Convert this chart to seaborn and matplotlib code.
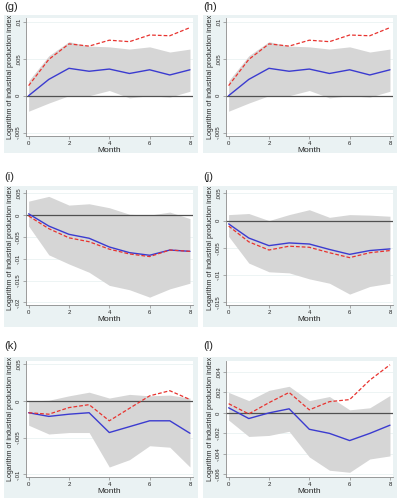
import matplotlib
matplotlib.use("Agg")
import matplotlib.pyplot as plt
from matplotlib.patches import Rectangle
import seaborn as sns

# DATA
months = [0, 1, 2, 3, 4, 5, 6, 7, 8]

g_blue = [0.0, 0.0022, 0.0037, 0.0033, 0.0036, 0.0030, 0.0035, 0.0028, 0.0035]
g_red = [0.00136, 0.0049, 0.0070, 0.0067, 0.0075, 0.0073, 0.0082, 0.0081, 0.0092]
g_hi = [0.0020, 0.0054, 0.0073, 0.0067, 0.0066, 0.0063, 0.0066, 0.0059, 0.0063]
g_lo = [-0.0021, -0.0010, 0.0, 0.0, 0.0007, -0.0003, 0.0, -0.0002, 0.0006]

h_blue = list(g_blue)
h_red = list(g_red)
h_hi = list(g_hi)
h_lo = list(g_lo)

i_blue = [0.0003, -0.0025, -0.0044, -0.0053, -0.0073, -0.0086, -0.0092, -0.0080, -0.0083]
i_red = [-0.0002, -0.0031, -0.0052, -0.0061, -0.0078, -0.0089, -0.0095, -0.0080, -0.0083]
i_hi = [0.0032, 0.0043, 0.0023, 0.0026, 0.0017, 0.0002, 0.0, 0.0007, -0.0008]
i_lo = [-0.0025, -0.0091, -0.0112, -0.0131, -0.0161, -0.0171, -0.0188, -0.0169, -0.0156]

j_blue = [-0.0006, -0.0032, -0.0046, -0.0041, -0.0043, -0.0053, -0.0062, -0.0055, -0.0052]
j_red = [-0.0010, -0.0039, -0.0054, -0.0047, -0.0049, -0.0059, -0.0068, -0.0059, -0.0055]
j_hi = [0.0011, 0.0013, 0.0, 0.0011, 0.0020, 0.0006, 0.0011, 0.0010, 0.0008]
j_lo = [-0.0029, -0.0078, -0.0094, -0.0096, -0.0107, -0.0115, -0.0135, -0.0121, -0.0115]

k_blue = [-0.0016, -0.0021, -0.0018, -0.0016, -0.0043, -0.0035, -0.0027, -0.0027, -0.0044]
k_red = [-0.0016, -0.0018, -0.0009, -0.0005, -0.0027, -0.0010, 0.0007, 0.0014, 0.0002]
k_hi = [0.0, 0.0001, 0.0007, 0.0012, 0.0004, 0.0009, 0.0007, 0.0008, 0.0004]
k_lo = [-0.0033, -0.0045, -0.0043, -0.0043, -0.0090, -0.0080, -0.0061, -0.0063, -0.0090]

l_blue = [0.0005, -0.00055, 0.0, 0.0004, -0.0016, -0.0020, -0.0027, -0.0020, -0.0012]
l_red = [0.0009, -0.0001, 0.0010, 0.0020, 0.0003, 0.0011, 0.0013, 0.0032, 0.0047]
l_hi = [0.0020, 0.0012, 0.0022, 0.0026, 0.0012, 0.0016, 0.0003, 0.0005, 0.0017]
l_lo = [-0.0007, -0.0023, -0.0022, -0.0018, -0.0043, -0.0056, -0.0058, -0.0045, -0.0042]

ticks_gh = [-0.005, 0, 0.005, 0.01]
labels_gh = ["-.005", "0", ".005", ".01"]
ticks_i = [-0.02, -0.015, -0.01, -0.005, 0, 0.005]
labels_i = ["-.02", "-.015", "-.01", "-.005", "0", ".005"]
ticks_j = [-0.015, -0.01, -0.005, 0, 0.005]
labels_j = ["-.015", "-.01", "-.005", "0", ".005"]
ticks_k = [-0.01, -0.005, 0, 0.005]
labels_k = ["-.01", "-.005", "0", ".005"]
ticks_l = [-0.006, -0.004, -0.002, 0, 0.002, 0.004]
labels_l = ["-.006", "-.004", "-.002", "0", ".002", ".004"]

month_ticks = [0, 2, 4, 6, 8]

sns.set_style("white")
plt.rcParams["font.family"] = ["Liberation Sans", "DejaVu Sans"]

W, H = 400, 500
fig = plt.figure(figsize=(4, 5), dpi=100)

OUTER = "#eaf2f3"
BAND = "#d6d6d6"
BLUE = "#3b3bd0"
RED = "#e8332f"
AXIS = "#8a8a8a"


def px_axes(x0, y0, x1, y1):
    return fig.add_axes([x0 / W, 1 - y1 / H, (x1 - x0) / W, (y1 - y0) / H])


def panel(letter, col, row, blue, red, lo, hi, ylim, yticks, ylabels):
    rows = [(15, 153, 18, 136, 7), (186, 327, 190, 305, 177), (357, 498, 361, 477, 346)]
    by0, by1, py0, py1, ly = rows[row]
    bx0 = 4 if col == 0 else 203
    px0 = 26 if col == 0 else 226
    # outer graph region, behind the axes
    fig.patches.append(Rectangle((bx0 / W, 1 - by1 / H), 194 / W, (by1 - by0) / H,
                                 transform=fig.transFigure, facecolor=OUTER,
                                 edgecolor="none", zorder=-5))
    fig.text((bx0 + 0) / W, 1 - ly / H, f"({letter})", fontsize=8, va="center", ha="left")

    ax = px_axes(px0, py0, px0 + 167, py1)
    ax.set_zorder(2)
    ax.set_facecolor("white")
    ax.fill_between(months, lo, hi, color=BAND, linewidth=0, zorder=1)
    ax.axhline(0, color="#505050", linewidth=0.9, zorder=2)
    sns.lineplot(x=months, y=blue, ax=ax, color=BLUE, linewidth=1.0, zorder=3)
    sns.lineplot(x=months, y=red, ax=ax, color=RED, linewidth=0.9,
                 linestyle=(0, (3, 1.6)), zorder=4)

    ax.set_xlim(-0.13, 8.15)
    ax.set_ylim(*ylim)
    ax.set_xticks(month_ticks)
    ax.set_xticklabels([str(m) for m in month_ticks])
    ax.set_yticks(yticks)
    ax.set_yticklabels(ylabels, rotation=90, va="center")
    for t in yticks:
        ax.axhline(t, color=OUTER, linewidth=0.6, zorder=0.5)
    ax.tick_params(axis="both", labelsize=4.3, length=2, width=0.5, color=AXIS, pad=1.5,
                   left=True, bottom=True)
    for side in ["top", "right"]:
        ax.spines[side].set_visible(False)
    for side in ["left", "bottom"]:
        ax.spines[side].set_color(AXIS)
        ax.spines[side].set_linewidth(0.6)
    ax.set_xlabel("Month", fontsize=6, labelpad=1)
    ax.set_ylabel("Logarithm of industrial production index", fontsize=5.1, labelpad=1.5)
    return ax


panel("g", 0, 0, g_blue, g_red, g_lo, g_hi, (-0.00545, 0.0105), ticks_gh, labels_gh)
panel("h", 1, 0, h_blue, h_red, h_lo, h_hi, (-0.00545, 0.0105), ticks_gh, labels_gh)
panel("i", 0, 1, i_blue, i_red, i_lo, i_hi, (-0.0206, 0.00576), ticks_i, labels_i)
panel("j", 1, 1, j_blue, j_red, j_lo, j_hi, (-0.0155, 0.00562), ticks_j, labels_j)
panel("k", 0, 2, k_blue, k_red, k_lo, k_hi, (-0.01036, 0.00545), ticks_k, labels_k)
panel("l", 1, 2, l_blue, l_red, l_lo, l_hi, (-0.00626, 0.00507), ticks_l, labels_l)

fig.savefig("out.png", dpi=100)
plt.close(fig)
